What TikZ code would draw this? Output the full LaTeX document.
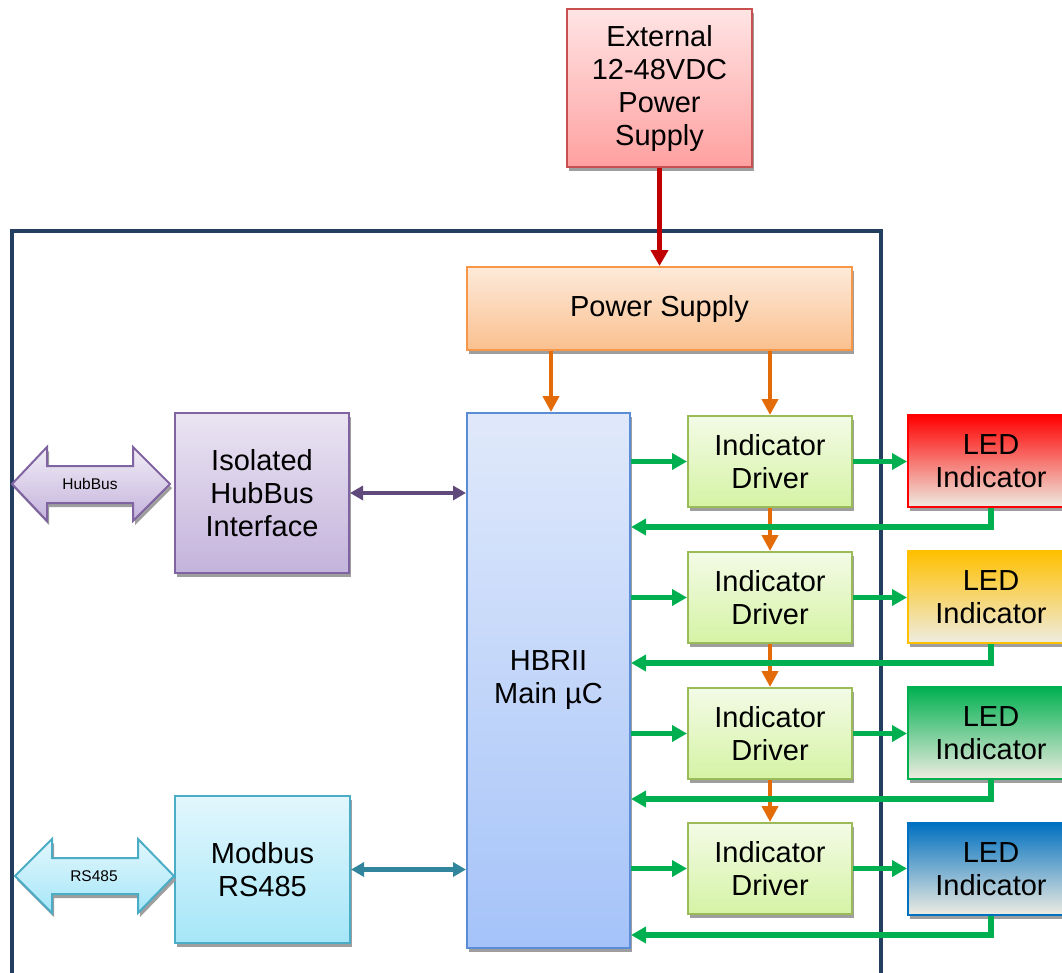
\documentclass[tikz,border=0pt]{standalone}
\usepackage{fontspec}
\setmainfont{Liberation Sans}
\usetikzlibrary{arrows.meta,shadows,calc}

\definecolor{frameC}{RGB}{36,62,96}
\definecolor{extTop}{RGB}{255,228,228}
\definecolor{extBot}{RGB}{255,160,160}
\definecolor{extLine}{RGB}{200,80,80}
\definecolor{redArr}{RGB}{192,0,0}
\definecolor{psTop}{RGB}{253,234,218}
\definecolor{psBot}{RGB}{250,192,143}
\definecolor{psLine}{RGB}{247,150,70}
\definecolor{orArr}{RGB}{227,108,9}
\definecolor{hbTop}{RGB}{224,233,250}
\definecolor{hbBot}{RGB}{165,195,249}
\definecolor{hbLine}{RGB}{91,141,214}
\definecolor{puTop}{RGB}{234,228,242}
\definecolor{puBot}{RGB}{196,179,220}
\definecolor{puLine}{RGB}{128,100,162}
\definecolor{puArr}{RGB}{96,74,123}
\definecolor{cyTop}{RGB}{226,247,253}
\definecolor{cyBot}{RGB}{165,230,248}
\definecolor{cyLine}{RGB}{75,172,198}
\definecolor{teArr}{RGB}{49,133,156}
\definecolor{drTop}{RGB}{243,251,230}
\definecolor{drBot}{RGB}{213,243,165}
\definecolor{drLine}{RGB}{155,187,89}
\definecolor{grn}{RGB}{0,176,80}
\definecolor{ledBot}{RGB}{238,236,225}
\definecolor{ledR}{RGB}{255,0,0}
\definecolor{ledO}{RGB}{255,192,0}
\definecolor{ledG}{RGB}{0,176,80}
\definecolor{ledB}{RGB}{0,112,192}

\begin{document}
\begin{tikzpicture}[x=1pt,y=-1pt,
  box/.style={line width=2pt, anchor=north west, inner sep=0pt, align=center,
    font=\fontsize{29}{33}\selectfont,
    drop shadow={shadow xshift=2pt,shadow yshift=-4pt,fill=black!38,opacity=1}},
  extbox/.style={box, draw=extLine, top color=extTop, bottom color=extBot},
  psbox/.style={box, draw=psLine, top color=psTop, bottom color=psBot},
  hbbox/.style={box, draw=hbLine, top color=hbTop, bottom color=hbBot},
  pubox/.style={box, draw=puLine, top color=puTop, bottom color=puBot},
  cybox/.style={box, draw=cyLine, top color=cyTop, bottom color=cyBot},
  drbox/.style={box, draw=drLine, top color=drTop, bottom color=drBot,
    minimum width=164pt, minimum height=91pt},
  ledbox/.style={box, draw=#1, top color=#1, bottom color=ledBot,
    minimum width=166pt, minimum height=92pt},
  smalllabel/.style={font=\fontsize{15.5}{18}\selectfont, inner sep=0pt},
  garrow/.style={draw=grn, line width=5.5pt, -{Triangle[length=15pt,width=16pt]}},
  oarrow/.style={draw=orArr, line width=4.5pt, -{Triangle[length=16pt,width=16pt]}},
  rarrow/.style={draw=redArr, line width=4.5pt, -{Triangle[length=16pt,width=17pt]}},
  darrow/.style={draw=#1, line width=4.5pt, {Triangle[length=13pt,width=14pt]}-{Triangle[length=13pt,width=14pt]}},
  bigarrow/.style={line width=2pt, drop shadow={shadow xshift=2pt,shadow yshift=-4pt,fill=black!38,opacity=1}}
]
\useasboundingbox (0,0) rectangle (1062,972);
\clip (0,0) rectangle (1062,972);

% outer frame
\draw[frameC, line width=4pt] (12,980) -- (12,231) -- (881,231) -- (881,980);

% boxes
\node[extbox, minimum width=185pt, minimum height=158pt] (ext) at (566,8) {External\\12-48VDC\\Power\\Supply};
\node[psbox, minimum width=385pt, minimum height=83pt] (ps) at (466,266) {Power Supply};
\node[hbbox, minimum width=163pt, minimum height=535pt] (hb) at (466,412) {HBRII\\Main µC};
\node[pubox, minimum width=174pt, minimum height=160pt] (iso) at (174,412) {Isolated\\HubBus\\Interface};
\node[cybox, minimum width=175pt, minimum height=147pt] (mb) at (174,795) {Modbus\\RS485};

\node[drbox] (d1) at (687,415) {Indicator\\Driver};
\node[drbox] (d2) at (687,551) {Indicator\\Driver};
\node[drbox] (d3) at (687,687) {Indicator\\Driver};
\node[drbox] (d4) at (687,822) {Indicator\\Driver};

\node[ledbox=ledR] (l1) at (907,414) {LED\\Indicator};
\node[ledbox=ledO] (l2) at (907,550) {LED\\Indicator};
\node[ledbox=ledG] (l3) at (907,686) {LED\\Indicator};
\node[ledbox=ledB] (l4) at (907,822) {LED\\Indicator};

% external double arrows
\shade[bigarrow, draw=puLine, top color=puTop!70!white, bottom color=puBot]
  (12,484) -- (47,447) -- (47,466) -- (133,466) -- (133,447) -- (170,484)
  -- (133,521) -- (133,503) -- (47,503) -- (47,521) -- cycle;
\node[smalllabel] (hubbus) at (90,484) {HubBus};
\shade[bigarrow, draw=cyLine, top color=cyTop, bottom color=cyBot]
  (15,876) -- (52,839) -- (52,858) -- (138,858) -- (138,839) -- (174,876)
  -- (138,913) -- (138,894) -- (52,894) -- (52,913) -- cycle;
\node[smalllabel] (rs485) at (94,876) {RS485};

% power arrows
\draw[rarrow] (ext.south) -- (ps.north);
\coordinate (xhb) at (551,0);
\draw[oarrow] (ps.south -| xhb) -- (hb.north -| xhb);
\draw[oarrow] (ps.south -| d1.north) -- (d1.north);
\draw[oarrow] (d1.south) -- (d2.north);
\draw[oarrow] (d2.south) -- (d3.north);
\draw[oarrow] (d3.south) -- (d4.north);

% interface arrows
\draw[darrow=puArr] (iso.east) -- (iso.east -| hb.west);
\draw[darrow=teArr] (mb.east) -- (mb.east -| hb.west);

% driver arrows
\foreach \i in {1,2,3,4}{
  \draw[garrow] (hb.east |- d\i.west) -- (d\i.west);
  \draw[garrow] (d\i.east) -- (d\i.east -| l\i.west);
  \draw[garrow] (l\i.south) |- ($(l\i.south -| hb.east)+(0,19)$);
}
\end{tikzpicture}
\end{document}
